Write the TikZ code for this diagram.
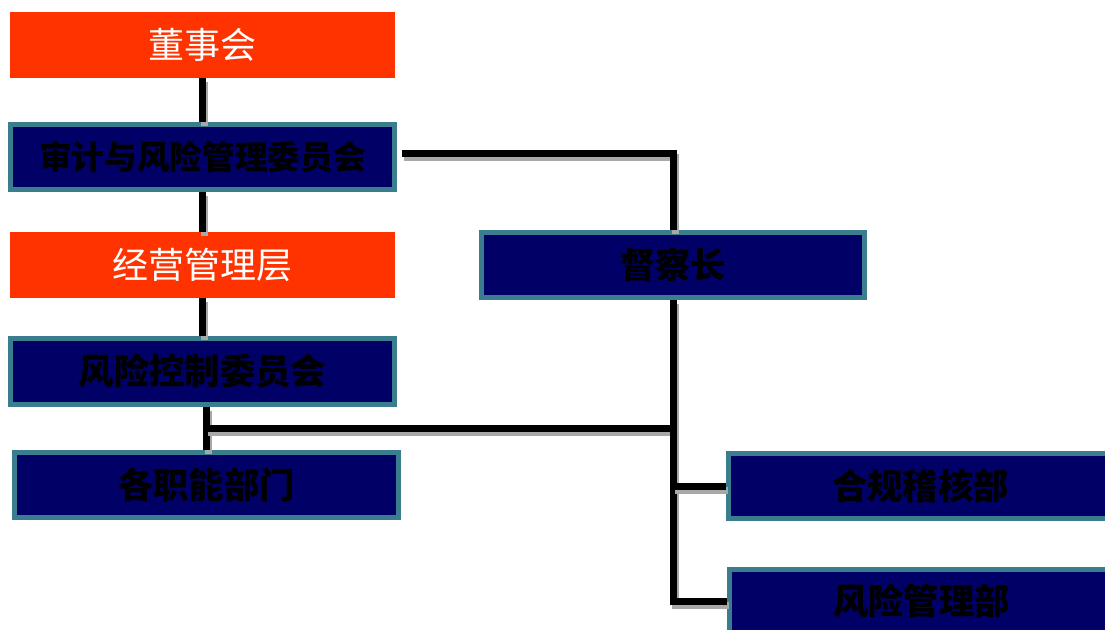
\documentclass[tikz,border=0pt]{standalone}
\usepackage{fontspec}
\newfontfamily\cjk{Noto Sans CJK SC}
\definecolor{boxred}{HTML}{FF3300}
\definecolor{navy}{HTML}{000066}
\definecolor{teal}{HTML}{3A7D8E}
\definecolor{shade}{HTML}{A8A8A8}
\tikzset{
  redbox/.style={fill=boxred, draw=none, inner sep=0pt, minimum width=288.75pt, minimum height=49.5pt,
    text=white, font=\cjk\fontsize{27}{32}\selectfont},
  bluebox/.style={fill=navy, draw=teal, line width=3.75pt, inner sep=0pt, minimum width=288pt, minimum height=48.75pt,
    text=black, font=\cjk\bfseries\fontsize{26.5}{32}\selectfont},
  conn/.style={draw=black, line width=5.25pt,
    preaction={draw=shade, line width=5.25pt, transform canvas={xshift=1.5pt, yshift=-3pt}}},
}
\begin{document}
\begin{tikzpicture}[x=0.75pt, y=-0.75pt]
\clip (0,0) rectangle (1105,630);
\fill[white] (0,0) rectangle (1105,630);
% nodes
\node[redbox] (dsh) at (202.5,45) {董事会};
\node[bluebox, minimum width=288pt] (sj) at (202.5,157) {\fontsize{24.5}{30}\selectfont 审计与风险管理委员会};
\node[redbox] (jy) at (202.5,265) {经营管理层};
\node[bluebox] (fk) at (202.5,371.5) {风险控制委员会};
\node[bluebox] (gz) at (206.5,484.5) {各职能部门};
\node[bluebox, minimum width=287.25pt] (dc) at (673,265) {督察长};
\node[bluebox] (hg) at (920.5,486) {合规稽核部};
\node[bluebox, minimum height=47.25pt] (fg) at (921.5,601) {风险管理部};
% junction coordinates
\coordinate (sjr) at (402,154);
\coordinate (k) at (206,428);
\coordinate (j1) at (675,428);
% connectors
\draw[conn] (dsh.south) -- (sj.north);
\draw[conn] (sj.south) -- (jy.north);
\draw[conn] (jy.south) -- (fk.north);
\draw[conn] (gz.north |- fk.south) -- (gz.north);
\draw[conn] (sjr) -| (dc.north);
\draw[conn] (k) -- (j1);
\draw[conn] (dc.south) -- (dc.south |- fg.west) -- (fg.west);
\draw[conn] (dc.south |- hg.west) -- (hg.west);
\end{tikzpicture}
\end{document}
